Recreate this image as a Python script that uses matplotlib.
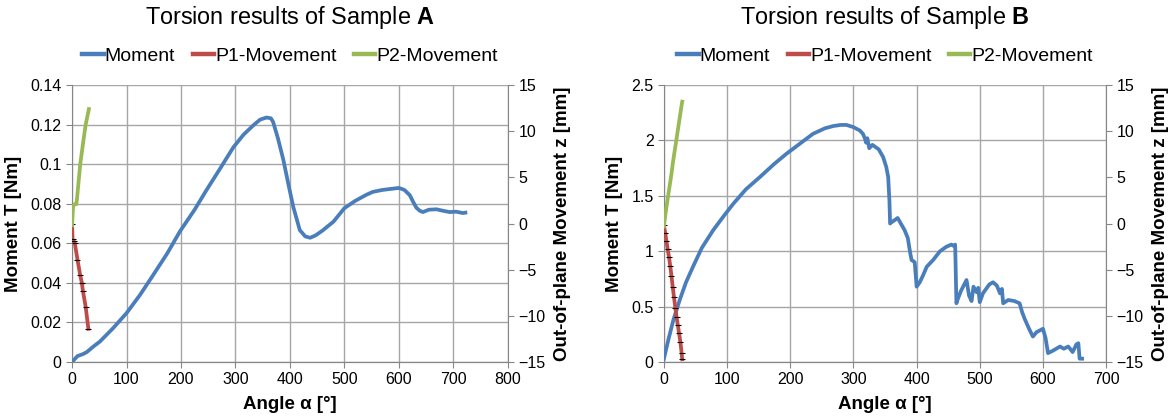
import matplotlib
matplotlib.use('Agg')
import matplotlib.pyplot as plt
from matplotlib.lines import Line2D
from matplotlib.ticker import FuncFormatter, MultipleLocator

plt.rcParams['font.family'] = ['Liberation Sans', 'DejaVu Sans']
plt.rcParams['mathtext.fontset'] = 'custom'
plt.rcParams['mathtext.rm'] = 'Liberation Sans'
plt.rcParams['mathtext.bf'] = 'Liberation Sans:bold'

# ---- Sample A ----
a_angle = [0, 10, 20, 27, 40, 51, 75, 100, 125, 149,
           175, 198, 225, 247, 270, 296, 315, 333, 345, 357,
           365, 369, 378, 388, 397, 406, 418, 428, 437, 447,
           460, 480, 500, 520, 540, 552, 570, 585, 600, 610,
           620, 626, 632, 638, 644, 655, 669, 680, 693, 705,
           717, 722]
a_moment = [0, 0.003, 0.004, 0.005, 0.008, 0.0103, 0.017, 0.0247, 0.034, 0.044,
            0.055, 0.066, 0.077, 0.087, 0.097, 0.1085, 0.115, 0.1197, 0.1225, 0.1236,
            0.1232, 0.1214, 0.113, 0.102, 0.09, 0.0785, 0.0667, 0.0635, 0.0628, 0.064,
            0.0665, 0.071, 0.0778, 0.0815, 0.0845, 0.086, 0.087, 0.0875, 0.088, 0.087,
            0.0843, 0.081, 0.078, 0.0765, 0.0758, 0.077, 0.0772, 0.0765, 0.0758, 0.076,
            0.0753, 0.0755]
a_p1_angle = [0, 1, 3, 5, 10, 15, 18, 20, 25, 30]
a_p1_z = [0, -1.7, -1.9, -2.1, -3.9, -5.6, -6.4, -7.3, -9.0, -11.4]
a_p2_angle = [0, 2, 5, 8, 9, 15, 20, 25, 31]
a_p2_z = [-0.2, 1.9, 2.1, 2.1, 2.6, 6.4, 8.6, 10.7, 12.4]

# ---- Sample B ----
b_angle = [0, 7, 15, 25, 35, 46, 60, 78, 95, 110,
           130, 152, 175, 194, 215, 236, 255, 268, 280, 289,
           300, 310, 315, 318, 320, 322, 325, 330, 340, 347,
           352, 355, 357, 358, 360, 365, 370, 375, 381, 386,
           390, 392, 395, 397, 400, 405, 410, 416, 426, 437,
           447, 455, 458, 461, 462, 463, 464, 470, 479, 483,
           487, 490, 495, 497.5, 500, 505, 510, 515, 521, 527,
           532, 535, 537, 545, 555, 563, 567, 571, 578, 584,
           590, 600, 604, 608, 615, 627, 633, 640, 647, 653,
           656, 658, 662]
b_moment = [0.03, 0.2, 0.38, 0.56, 0.72, 0.86, 1.03, 1.19, 1.32, 1.43,
            1.56, 1.67, 1.79, 1.88, 1.97, 2.06, 2.11, 2.13, 2.14, 2.14,
            2.12, 2.09, 2.06, 2.02, 1.98, 2.02, 1.93, 1.96, 1.92, 1.85,
            1.76, 1.67, 1.45, 1.25, 1.26, 1.28, 1.30, 1.25, 1.19, 1.12,
            0.98, 0.92, 0.91, 0.90, 0.68, 0.72, 0.78, 0.86, 0.92, 1.0,
            1.04, 1.06, 1.05, 1.06, 0.8, 0.53, 0.55, 0.64, 0.74, 0.6,
            0.55, 0.68, 0.63, 0.67, 0.54, 0.62, 0.66, 0.70, 0.72, 0.69,
            0.62, 0.66, 0.53, 0.56, 0.55, 0.53, 0.45, 0.39, 0.30, 0.23,
            0.27, 0.30, 0.22, 0.08, 0.10, 0.14, 0.12, 0.14, 0.09, 0.16,
            0.17, 0.03, 0.03]
b_p1_angle = [0, 2, 4, 6, 8, 10, 12, 14, 16, 18, 20, 22, 24, 26, 28, 29]
b_p1_z = [-0.2, -1.0, -1.9, -2.8, -3.6, -4.6, -5.7, -6.9, -8.0, -9.1,
          -10.1, -11.0, -11.9, -12.8, -14.0, -14.7]
b_p2_angle = [0, 2, 4, 6, 8, 10, 12, 14, 16, 18, 20, 22, 24, 26, 28, 29]
b_p2_z = [-0.3, 0.8, 1.8, 2.7, 3.6, 4.5, 5.4, 6.5, 7.4, 8.3,
          9.2, 10.1, 11.0, 11.9, 12.8, 13.2]

series_names = ['Moment', 'P1-Movement', 'P2-Movement']

c_blue = '#4A7EBB'
c_red = '#BE4B48'
c_green = '#98B954'
c_grid = '#A6A6A6'
c_axis = '#868686'

fmt = FuncFormatter(lambda v, p: '%g' % round(v, 4))


def panel(ax, sample, ang, mom, p1a, p1z, p2a, p2z, xmax, ymax, ystep):
    ax2 = ax.twinx()
    ax.plot(ang, mom, color=c_blue, lw=2.7, zorder=3)
    ax2.plot(p1a, p1z, color=c_red, lw=2.7, marker='_', mec='black', ms=4, mew=0.8)
    ax2.plot(p2a, p2z, color=c_green, lw=2.7)

    ax.set_xlim(0, xmax)
    ax.set_ylim(0, ymax)
    ax2.set_ylim(-15, 15)
    ax.xaxis.set_major_locator(MultipleLocator(100))
    ax.yaxis.set_major_locator(MultipleLocator(ystep))
    ax2.yaxis.set_major_locator(MultipleLocator(5))
    ax.yaxis.set_major_formatter(fmt)
    ax.grid(True, color=c_grid, lw=1)
    ax.set_axisbelow(True)

    for a in (ax, ax2):
        a.spines['top'].set_visible(False)
        for s in ('left', 'right', 'bottom'):
            a.spines[s].set_color(c_axis)
        a.tick_params(direction='out', length=4, color=c_axis, labelsize=11.5,
                      labelcolor='black')
    ax.spines['right'].set_visible(False)
    ax2.spines['left'].set_visible(False)

    ax.set_xlabel('Angle α [°]', fontsize=13.5, fontweight='bold', labelpad=6)
    ax.set_ylabel('Moment T [Nm]', fontsize=13.5, fontweight='bold', labelpad=6)
    ax2.set_ylabel('Out-of-plane Movement z [mm]', fontsize=13.5, fontweight='bold',
                   labelpad=6)

    ax.text(0.5, 1.245, r'Torsion results of Sample $\mathbf{%s}$' % sample,
            transform=ax.transAxes, ha='center', va='center', fontsize=16.8)
    handles = [Line2D([], [], color=c, lw=3.2) for c in (c_blue, c_red, c_green)]
    ax2.legend(handles, series_names, loc='center', bbox_to_anchor=(0.5, 1.105),
               ncol=3, frameon=False, fontsize=14, handlelength=1.1,
               handletextpad=0.05, columnspacing=0.9)
    return ax2


fig = plt.figure(figsize=(11.73, 4.19), dpi=100)
axA = fig.add_axes([0.0614, 0.136, 0.3716, 0.661])
axB = fig.add_axes([0.566, 0.136, 0.377, 0.661])

panel(axA, 'A', a_angle, a_moment, a_p1_angle, a_p1_z, a_p2_angle, a_p2_z,
      800, 0.14, 0.02)
panel(axB, 'B', b_angle, b_moment, b_p1_angle, b_p1_z, b_p2_angle, b_p2_z,
      700, 2.5, 0.5)

fig.savefig('out.png', dpi=100)
